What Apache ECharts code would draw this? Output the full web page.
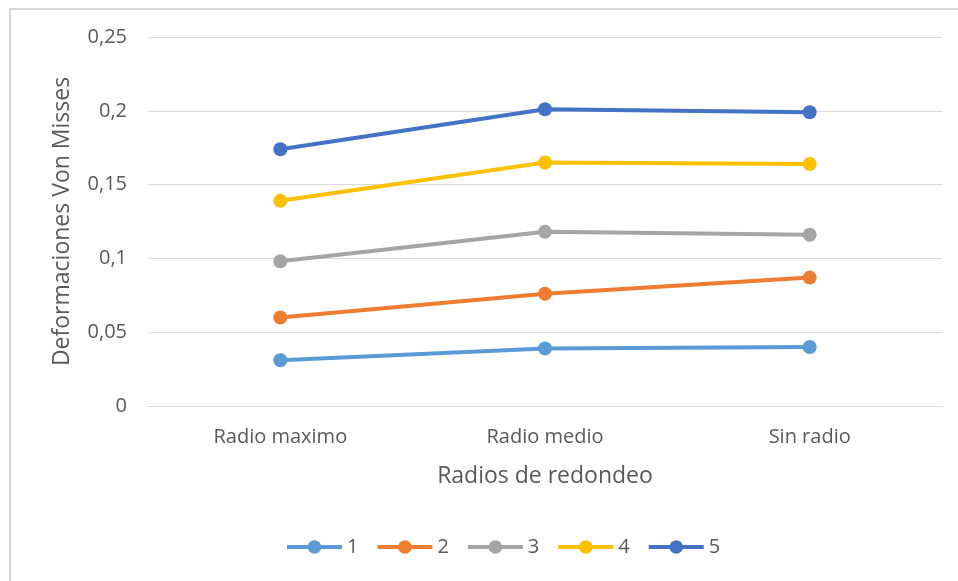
<!DOCTYPE html>
<html>
<head>
<meta charset="utf-8">
<script src="https://cdn.jsdelivr.net/npm/echarts@6/dist/echarts.min.js"></script>
<style>
  html, body { margin: 0; padding: 0; background: #fff; }
  #chart { width: 958px; height: 581px; }
</style>
</head>
<body>
<div id="chart"></div>
<script>
// Categories along the x axis
const categories = ['Radio maximo', 'Radio medio', 'Sin radio'];

// One series per case, Von Mises values at each rounding radius
const serie1 = [0.031, 0.039, 0.040];
const serie2 = [0.060, 0.076, 0.087];
const serie3 = [0.098, 0.118, 0.116];
const serie4 = [0.139, 0.165, 0.164];
const serie5 = [0.174, 0.201, 0.199];

const seriesNames = ['1', '2', '3', '4', '5'];
const seriesValues = [serie1, serie2, serie3, serie4, serie5];
const colors = ['#5B9BD5', '#ED7D31', '#A5A5A5', '#FFC000', '#4472C4'];

const FONT = 'Open Sans';
const TEXT = '#595959';

const chart = echarts.init(document.getElementById('chart'), null, { renderer: 'canvas' });

chart.setOption({
  animation: false,
  backgroundColor: '#ffffff',
  color: colors,
  graphic: [{
    type: 'rect',
    shape: { x: 10, y: 9, width: 980, height: 620 },
    style: { fill: 'none', stroke: '#D9D9D9', lineWidth: 2 },
    silent: true
  }],
  grid: { left: 148, right: 16, top: 37, bottom: 175 },
  legend: {
    bottom: 19,
    left: 280,
    itemWidth: 55,
    itemHeight: 17,
    itemGap: 17,
    lineStyle: { width: 4 },
    textStyle: { fontFamily: FONT, fontSize: 20, color: TEXT },
    data: seriesNames
  },
  xAxis: {
    type: 'category',
    data: categories,
    boundaryGap: true,
    name: 'Radios de redondeo',
    nameLocation: 'middle',
    nameGap: 59,
    nameTextStyle: { fontFamily: FONT, fontSize: 23, color: TEXT },
    axisLine: { show: true, lineStyle: { color: '#D9D9D9', width: 1 } },
    axisTick: { show: false },
    axisLabel: { fontFamily: FONT, fontSize: 20, color: TEXT, margin: 21 }
  },
  yAxis: {
    type: 'value',
    min: 0,
    max: 0.25,
    interval: 0.05,
    name: 'Deformaciones Von Misses',
    nameLocation: 'middle',
    nameGap: 74,
    nameTextStyle: { fontFamily: FONT, fontSize: 23, color: TEXT },
    axisLine: { show: false },
    axisTick: { show: false },
    splitLine: { lineStyle: { color: '#D9D9D9', width: 1 } },
    axisLabel: {
      fontFamily: FONT, fontSize: 20, color: TEXT, margin: 21,
      formatter: v => String(Math.round(v * 100) / 100).replace('.', ',')
    }
  },
  series: seriesNames.map((name, i) => ({
    name: name,
    type: 'line',
    data: seriesValues[i],
    symbol: 'circle',
    symbolSize: 14,
    lineStyle: { width: 4, color: colors[i] },
    itemStyle: { color: colors[i] },
    z: 2 + i
  }))
});
</script>
</body>
</html>
